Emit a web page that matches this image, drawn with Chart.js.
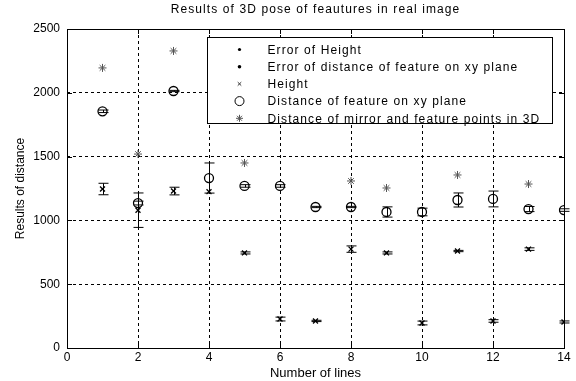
<!DOCTYPE html>
<html>
<head>
<meta charset="utf-8">
<script src="https://cdn.jsdelivr.net/npm/chart.js@4"></script>
<style>
  html, body { margin: 0; padding: 0; background: #fff; }
  #wrap { width: 576px; height: 381px; }
</style>
</head>
<body>
<div id="wrap"><canvas id="chart" width="576" height="381"></canvas></div>
<script>
// значення
const lines = [1, 2, 3, 4, 5, 6, 7, 8, 9, 10, 11, 12, 13, 14];
const heightVals = [1246, 1080, 1230, 1225, 745, 227, 212, 775, 745, 196, 760, 212, 775, 204];
const heightErr = [45, 135, 30, 0, 8, 15, 5, 25, 8, 15, 5, 10, 10, 8];
const distVals = [1855, 1136, 2014, 1332, 1270, 1270, 1105, 1105, 1066, 1066, 1160, 1168, 1089, 1081];
const distErr = [10, 15, 5, 118, 10, 10, 5, 5, 40, 30, 55, 62, 20, 10];
const mirrorVals = [2195, 1520, 2328, null, 1450, null, null, 1309, 1254, null, 1356, null, 1285, null];
const xTicks = [0, 2, 4, 6, 8, 10, 12, 14];
const yTicks = [0, 500, 1000, 1500, 2000, 2500];
const titleText = 'Results of 3D pose of feautures in real image';

const FONT = 'Arial, "Liberation Sans", sans-serif';

function pts(vals) {
  return lines.map((x, i) => ({ x: x, y: vals[i] })).filter(p => p.y !== null);
}

// вертикальні відрізки похибок
const errorBars = {
  id: 'errorBars',
  afterDatasetsDraw(chart) {
    const ctx = chart.ctx;
    const xs = chart.scales.x, ys = chart.scales.y;
    ctx.save();
    ctx.strokeStyle = '#000';
    ctx.lineWidth = 1;
    chart.data.datasets.forEach(ds => {
      if (!ds.errors) return;
      lines.forEach((x, i) => {
        const e = ds.errors[i];
        const v = ds.base[i];
        if (!e || v === null) return;
        const px = Math.round(xs.getPixelForValue(x)) + 0.5;
        const top = ys.getPixelForValue(v + e);
        const bot = ys.getPixelForValue(v - e);
        ctx.beginPath();
        ctx.moveTo(px, top); ctx.lineTo(px, bot);
        ctx.moveTo(px - 5, top); ctx.lineTo(px + 5, top);
        ctx.moveTo(px - 5, bot); ctx.lineTo(px + 5, bot);
        ctx.stroke();
      });
    });
    ctx.restore();
  }
};

// рамка осей, внутрішні риски, заголовок та легенда
const frameAndLegend = {
  id: 'frameAndLegend',
  afterDraw(chart) {
    const ctx = chart.ctx;
    const a = chart.chartArea;
    const xs = chart.scales.x, ys = chart.scales.y;
    ctx.save();
    ctx.strokeStyle = '#000';
    ctx.lineWidth = 1;
    ctx.strokeRect(Math.round(a.left) + 0.5, Math.round(a.top) + 0.5,
      Math.round(a.right - a.left), Math.round(a.bottom - a.top));
    ctx.beginPath();
    xTicks.forEach(t => {
      const px = Math.round(xs.getPixelForValue(t)) + 0.5;
      ctx.moveTo(px, a.bottom); ctx.lineTo(px, a.bottom - 5);
      ctx.moveTo(px, a.top); ctx.lineTo(px, a.top + 5);
    });
    yTicks.forEach(t => {
      const py = Math.round(ys.getPixelForValue(t)) + 0.5;
      ctx.moveTo(a.left, py); ctx.lineTo(a.left + 5, py);
      ctx.moveTo(a.right, py); ctx.lineTo(a.right - 5, py);
    });
    ctx.stroke();

    // заголовок по центру області графіка
    ctx.fillStyle = '#000';
    ctx.font = '12px ' + FONT;
    ctx.letterSpacing = '1.1px';
    ctx.textAlign = 'center';
    ctx.textBaseline = 'middle';
    ctx.fillText(titleText, (a.left + a.right) / 2, 10);

    // легенда
    const L = Math.round(a.left + 140) + 0.5, T = Math.round(a.top + 8) + 0.5;
    const R = Math.round(a.right - 12) + 0.5, B = Math.round(a.top + 94) + 0.5;
    ctx.fillStyle = '#fff';
    ctx.fillRect(L, T, R - L, B - T);
    ctx.strokeRect(L, T, R - L, B - T);
    ctx.textAlign = 'left';
    chart.data.datasets.forEach((ds, i) => {
      const y = T + 12 + i * 17.2;
      const mx = L + 32;
      ctx.strokeStyle = ds.legendColor;
      ctx.lineWidth = 1;
      if (ds.legendFill) {
        ctx.fillStyle = '#000';
        ctx.beginPath();
        ctx.arc(mx, y, ds.legendRadius, 0, Math.PI * 2);
        ctx.fill();
      } else {
        ctx.fillStyle = 'rgba(0,0,0,0)';
        Chart.helpers.drawPoint(ctx, { pointStyle: ds.pointStyle, radius: ds.legendRadius, borderWidth: 1 }, mx, y);
      }
      ctx.fillStyle = '#000';
      ctx.fillText(ds.label, L + 60, y + 1);
    });
    ctx.restore();
  }
};

new Chart(document.getElementById('chart'), {
  type: 'scatter',
  data: {
    datasets: [
      {
        label: 'Error of Height',
        data: [],
        base: heightVals,
        errors: heightErr,
        pointStyle: 'circle', legendRadius: 1.6, legendFill: true, legendColor: '#000'
      },
      {
        label: 'Error of distance of feature on xy plane',
        data: [],
        base: distVals,
        errors: distErr,
        pointStyle: 'circle', legendRadius: 1.8, legendFill: true, legendColor: '#000'
      },
      {
        label: 'Height',
        data: pts(heightVals),
        pointStyle: 'crossRot', legendRadius: 2.5, legendColor: '#333',
        pointRadius: 3.5, borderColor: '#000', borderWidth: 1.3, backgroundColor: 'transparent'
      },
      {
        label: 'Distance of feature on xy plane',
        data: pts(distVals),
        pointStyle: 'circle', legendRadius: 4.5, legendColor: '#000',
        pointRadius: 4.5, borderColor: '#000', borderWidth: 1.3, backgroundColor: 'transparent'
      },
      {
        label: 'Distance of mirror and feature points in 3D',
        data: pts(mirrorVals),
        pointStyle: 'star', legendRadius: 3.5, legendColor: '#555',
        pointRadius: 4, borderColor: '#555', borderWidth: 1, backgroundColor: 'transparent'
      }
    ]
  },
  options: {
    responsive: false,
    animation: false,
    layout: { padding: { left: 0, right: 12, top: 29, bottom: 0 } },
    plugins: {
      legend: { display: false },
      tooltip: { enabled: false },
      title: { display: false }
    },
    scales: {
      x: {
        type: 'linear',
        min: 0, max: 14,
        afterBuildTicks: s => { s.ticks = xTicks.map(v => ({ value: v })); },
        afterFit: s => { s.height = 33; },
        ticks: { color: '#000', font: { family: FONT, size: 12 }, padding: 2, callback: v => String(v) },
        grid: {
          color: c => (c.tick.value === 0 || c.tick.value === 14) ? 'transparent' : '#000',
          drawTicks: false
        },
        border: { display: false, dash: [3, 3] },
        title: {
          display: true, text: 'Number of lines', color: '#000',
          font: { family: FONT, size: 13 }, padding: { top: 0, bottom: 0 }
        }
      },
      y: {
        type: 'linear',
        min: 0, max: 2500,
        afterBuildTicks: s => { s.ticks = yTicks.map(v => ({ value: v })); },
        afterFit: s => { s.width = 67; },
        ticks: { color: '#000', font: { family: FONT, size: 12 }, padding: 7, callback: v => String(v) },
        grid: {
          color: c => (c.tick.value === 0 || c.tick.value === 2500) ? 'transparent' : '#000',
          drawTicks: false
        },
        border: { display: false, dash: [3, 3] },
        title: {
          display: true, text: 'Results of distance', color: '#000',
          font: { family: FONT, size: 12 }, padding: { top: 13, bottom: 0 }
        }
      }
    }
  },
  plugins: [errorBars, frameAndLegend]
});
</script>
</body>
</html>
